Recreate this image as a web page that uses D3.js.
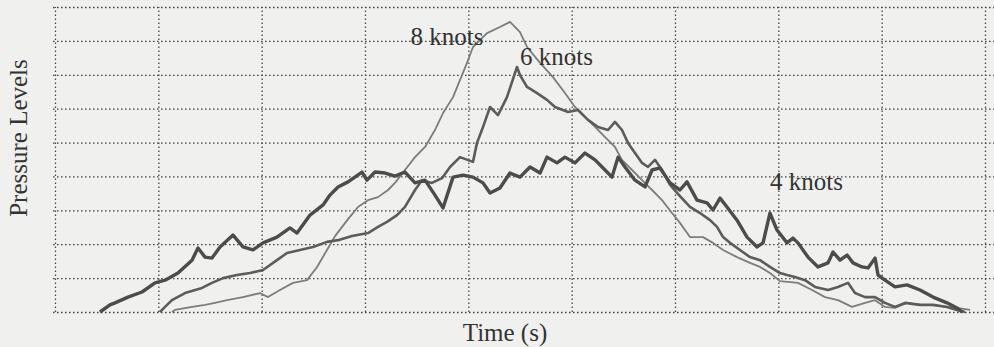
<!DOCTYPE html>
<html>
<head>
<meta charset="utf-8">
<script src="https://cdn.jsdelivr.net/npm/d3@7"></script>
<style>
  html, body { margin: 0; padding: 0; background: #f0f0ee; }
  svg { display: block; }
</style>
</head>
<body>
<svg id="chart" width="994" height="347"></svg>
<script>
// ---- data (time in s, pressure level in grid units) ----
const xGridTicks = [0, 10, 20, 30, 40, 50, 60, 70, 80, 90];
const yGridTicks = [0, 1, 2, 3, 4, 5, 6, 7, 8, 9];

const knots4Time = [4.35,5.32,5.81,7.06,8.42,9.68,10.65,11.90,13.26,13.84,14.52,15.19,15.97,17.23,18.19,19.16,20.13,21.48,22.74,23.42,24.68,25.94,26.61,27.39,28.36,29.71,30.19,30.97,31.94,32.90,33.87,34.84,35.81,36.77,37.55,38.52,39.48,40.45,41.42,42.10,43.06,44.03,45.00,45.97,46.94,47.61,48.58,49.35,50.32,51.29,52.26,53.23,53.90,54.49,55.16,56.13,57.10,57.78,58.55,59.52,60.48,61.16,62.13,63.10,63.68,64.36,65.03,66.00,66.97,67.94,68.52,69.19,69.87,70.84,71.42,71.90,72.87,73.84,74.81,75.29,75.97,76.65,77.23,78.10,78.68,79.36,79.65,80.32,81.29,82.45,83.71,84.97,86.32,87.29,87.78];
const knots4Level = [0,0.21,0.27,0.44,0.59,0.86,0.94,1.15,1.53,1.89,1.62,1.59,1.92,2.27,1.92,1.83,2.04,2.21,2.48,2.33,2.86,3.16,3.45,3.69,3.84,4.13,3.89,4.13,4.10,4.01,4.13,3.81,3.89,3.45,3.07,3.98,4.04,3.98,3.81,3.51,3.66,4.10,3.98,4.28,4.10,4.57,4.40,4.57,4.40,4.69,4.49,4.19,3.98,4.57,4.28,3.89,3.69,4.19,4.25,3.81,3.60,3.84,3.30,3.22,3.01,3.36,3.10,2.71,2.21,1.92,2.04,2.92,2.42,2.04,2.18,2.04,1.62,1.33,1.45,1.77,1.53,1.68,1.45,1.33,1.30,1.59,1.09,0.94,0.74,0.80,0.65,0.44,0.27,0.12,0];

const knots6Time = [10.16,10.65,11.32,12.58,14.23,15.19,16.26,17.61,18.87,20.13,21.48,22.45,23.71,24.97,26.32,27.39,28.74,30.29,31.26,32.13,33.10,33.87,34.84,35.52,36.48,37.45,38.23,39.19,40.45,40.84,41.42,42.10,42.87,43.74,44.71,45.00,45.68,46.65,47.61,48.39,49.65,50.61,51.58,52.55,53.52,54.19,54.87,55.45,56.13,56.81,57.39,58.06,58.74,59.52,60.48,61.45,62.42,63.39,64.07,64.65,65.32,66.29,67.26,68.23,69.19,70.16,70.84,71.61,72.58,73.55,74.81,75.77,76.74,77.42,78.39,79.36,80.32,81.29,82.26,83.71,84.97,86.32,87.29,88.06];
const knots6Level = [0,0.15,0.35,0.56,0.71,0.86,1.00,1.09,1.15,1.24,1.53,1.74,1.83,1.92,2.07,2.12,2.24,2.33,2.51,2.66,2.86,3.10,3.60,3.89,3.81,3.95,4.28,4.57,4.43,4.99,5.46,6.05,5.81,6.34,7.23,6.99,6.64,6.46,6.26,6.05,5.90,5.96,5.67,5.46,5.37,5.61,5.37,4.99,4.69,4.40,4.28,4.49,4.19,3.75,3.42,3.10,2.92,2.71,2.51,2.21,2.04,1.83,1.62,1.53,1.33,1.15,1.09,1.03,0.94,0.74,0.65,0.74,0.86,0.56,0.44,0.44,0.27,0.15,0.27,0.21,0.21,0.15,0.06,0];

const knots8Time = [11.32,11.61,13.26,14.52,15.48,16.65,18.19,19.84,20.61,21.77,23.03,24.39,25.36,26.32,27.10,28.36,29.32,30.29,31.26,32.23,32.90,33.87,34.84,35.81,36.77,37.55,38.52,39.87,40.45,41.81,43.06,44.03,45.00,45.68,46.94,48.19,49.35,50.32,51.29,52.26,53.23,54.19,54.87,55.84,56.81,57.78,58.74,59.71,60.48,61.45,62.71,63.68,64.65,66.00,67.26,68.23,69.19,70.16,71.90,73.26,74.52,75.77,77.13,78.39,79.36,80.32,81.29,82.45,83.71,84.97,86.32,87.29,88.55];
const knots8Level = [0,0.06,0.15,0.21,0.27,0.35,0.44,0.56,0.44,0.65,0.86,0.94,1.33,1.83,2.24,2.74,3.10,3.30,3.39,3.60,3.81,4.19,4.57,4.87,5.37,5.87,6.34,7.35,7.82,8.23,8.41,8.56,8.26,7.82,7.35,6.93,6.46,6.05,5.75,5.46,5.16,4.87,4.49,4.19,3.89,3.60,3.30,2.92,2.63,2.21,2.21,2.04,1.83,1.62,1.45,1.33,1.15,0.91,0.86,0.65,0.44,0.35,0.15,0.27,0.35,0.15,0.12,0.27,0.21,0.21,0.15,0.12,0.06];

const seriesNames = ["4 knots", "6 knots", "8 knots"];
const labelTime  = [69.2, 45.0, 34.4];
const labelLevel = [3.6, 7.29, 7.88];

const xTitle = "Time (s)";
const yTitle = "Pressure Levels";

// ---- drawing ----
const FONT = "'Liberation Serif', 'Times New Roman', serif";
const svg = d3.select("#chart");
const x = d3.scaleLinear().domain([0, 90]).range([55, 985]);
const y = d3.scaleLinear().domain([0, 9]).range([312, 7]);

// horizontal dotted grid
svg.append("g")
  .attr("transform", "translate(53,0)")
  .call(d3.axisRight(y).tickValues(yGridTicks).tickSize(941).tickFormat(""))
  .call(g => g.select(".domain").remove())
  .call(g => g.selectAll("line")
      .attr("stroke", "#4a4a4a").attr("stroke-width", 1.3)
      .attr("stroke-dasharray", "1.6,2.4"));

// vertical dotted grid
svg.append("g")
  .attr("transform", "translate(0,312)")
  .call(d3.axisTop(x).tickValues(xGridTicks).tickSize(305).tickFormat(""))
  .call(g => g.select(".domain").remove())
  .call(g => g.selectAll("line")
      .attr("stroke", "#4a4a4a").attr("stroke-width", 1.3)
      .attr("stroke-dasharray", "1.6,2.4"));

const line = d3.line().x(d => x(d[0])).y(d => y(d[1]));
const zip = (a, b) => a.map((v, i) => [v, b[i]]);

const series = [
  { pts: zip(knots8Time, knots8Level), color: "#7d7d7d", w: 1.8 },
  { pts: zip(knots6Time, knots6Level), color: "#5c5c5c", w: 2.6 },
  { pts: zip(knots4Time, knots4Level), color: "#4c4c4c", w: 3.4 }
];
series.forEach(s => {
  svg.append("path")
    .attr("d", line(s.pts))
    .attr("fill", "none")
    .attr("stroke", s.color)
    .attr("stroke-width", s.w)
    .attr("stroke-linejoin", "round");
});

// series labels
seriesNames.forEach((n, i) => {
  svg.append("text")
    .attr("x", x(labelTime[i])).attr("y", y(labelLevel[i]))
    .attr("font-family", FONT)
    .attr("font-size", 25)
    .attr("fill", "#333")
    .text(n);
});

// axis titles
svg.append("text")
  .attr("x", 505).attr("y", 341)
  .attr("text-anchor", "middle")
  .attr("font-family", FONT)
  .attr("font-size", 25)
  .attr("fill", "#333")
  .text(xTitle);

svg.append("text")
  .attr("transform", "translate(27,138) rotate(-90)")
  .attr("text-anchor", "middle")
  .attr("font-family", FONT)
  .attr("font-size", 25)
  .attr("fill", "#333")
  .text(yTitle);
</script>
</body>
</html>
